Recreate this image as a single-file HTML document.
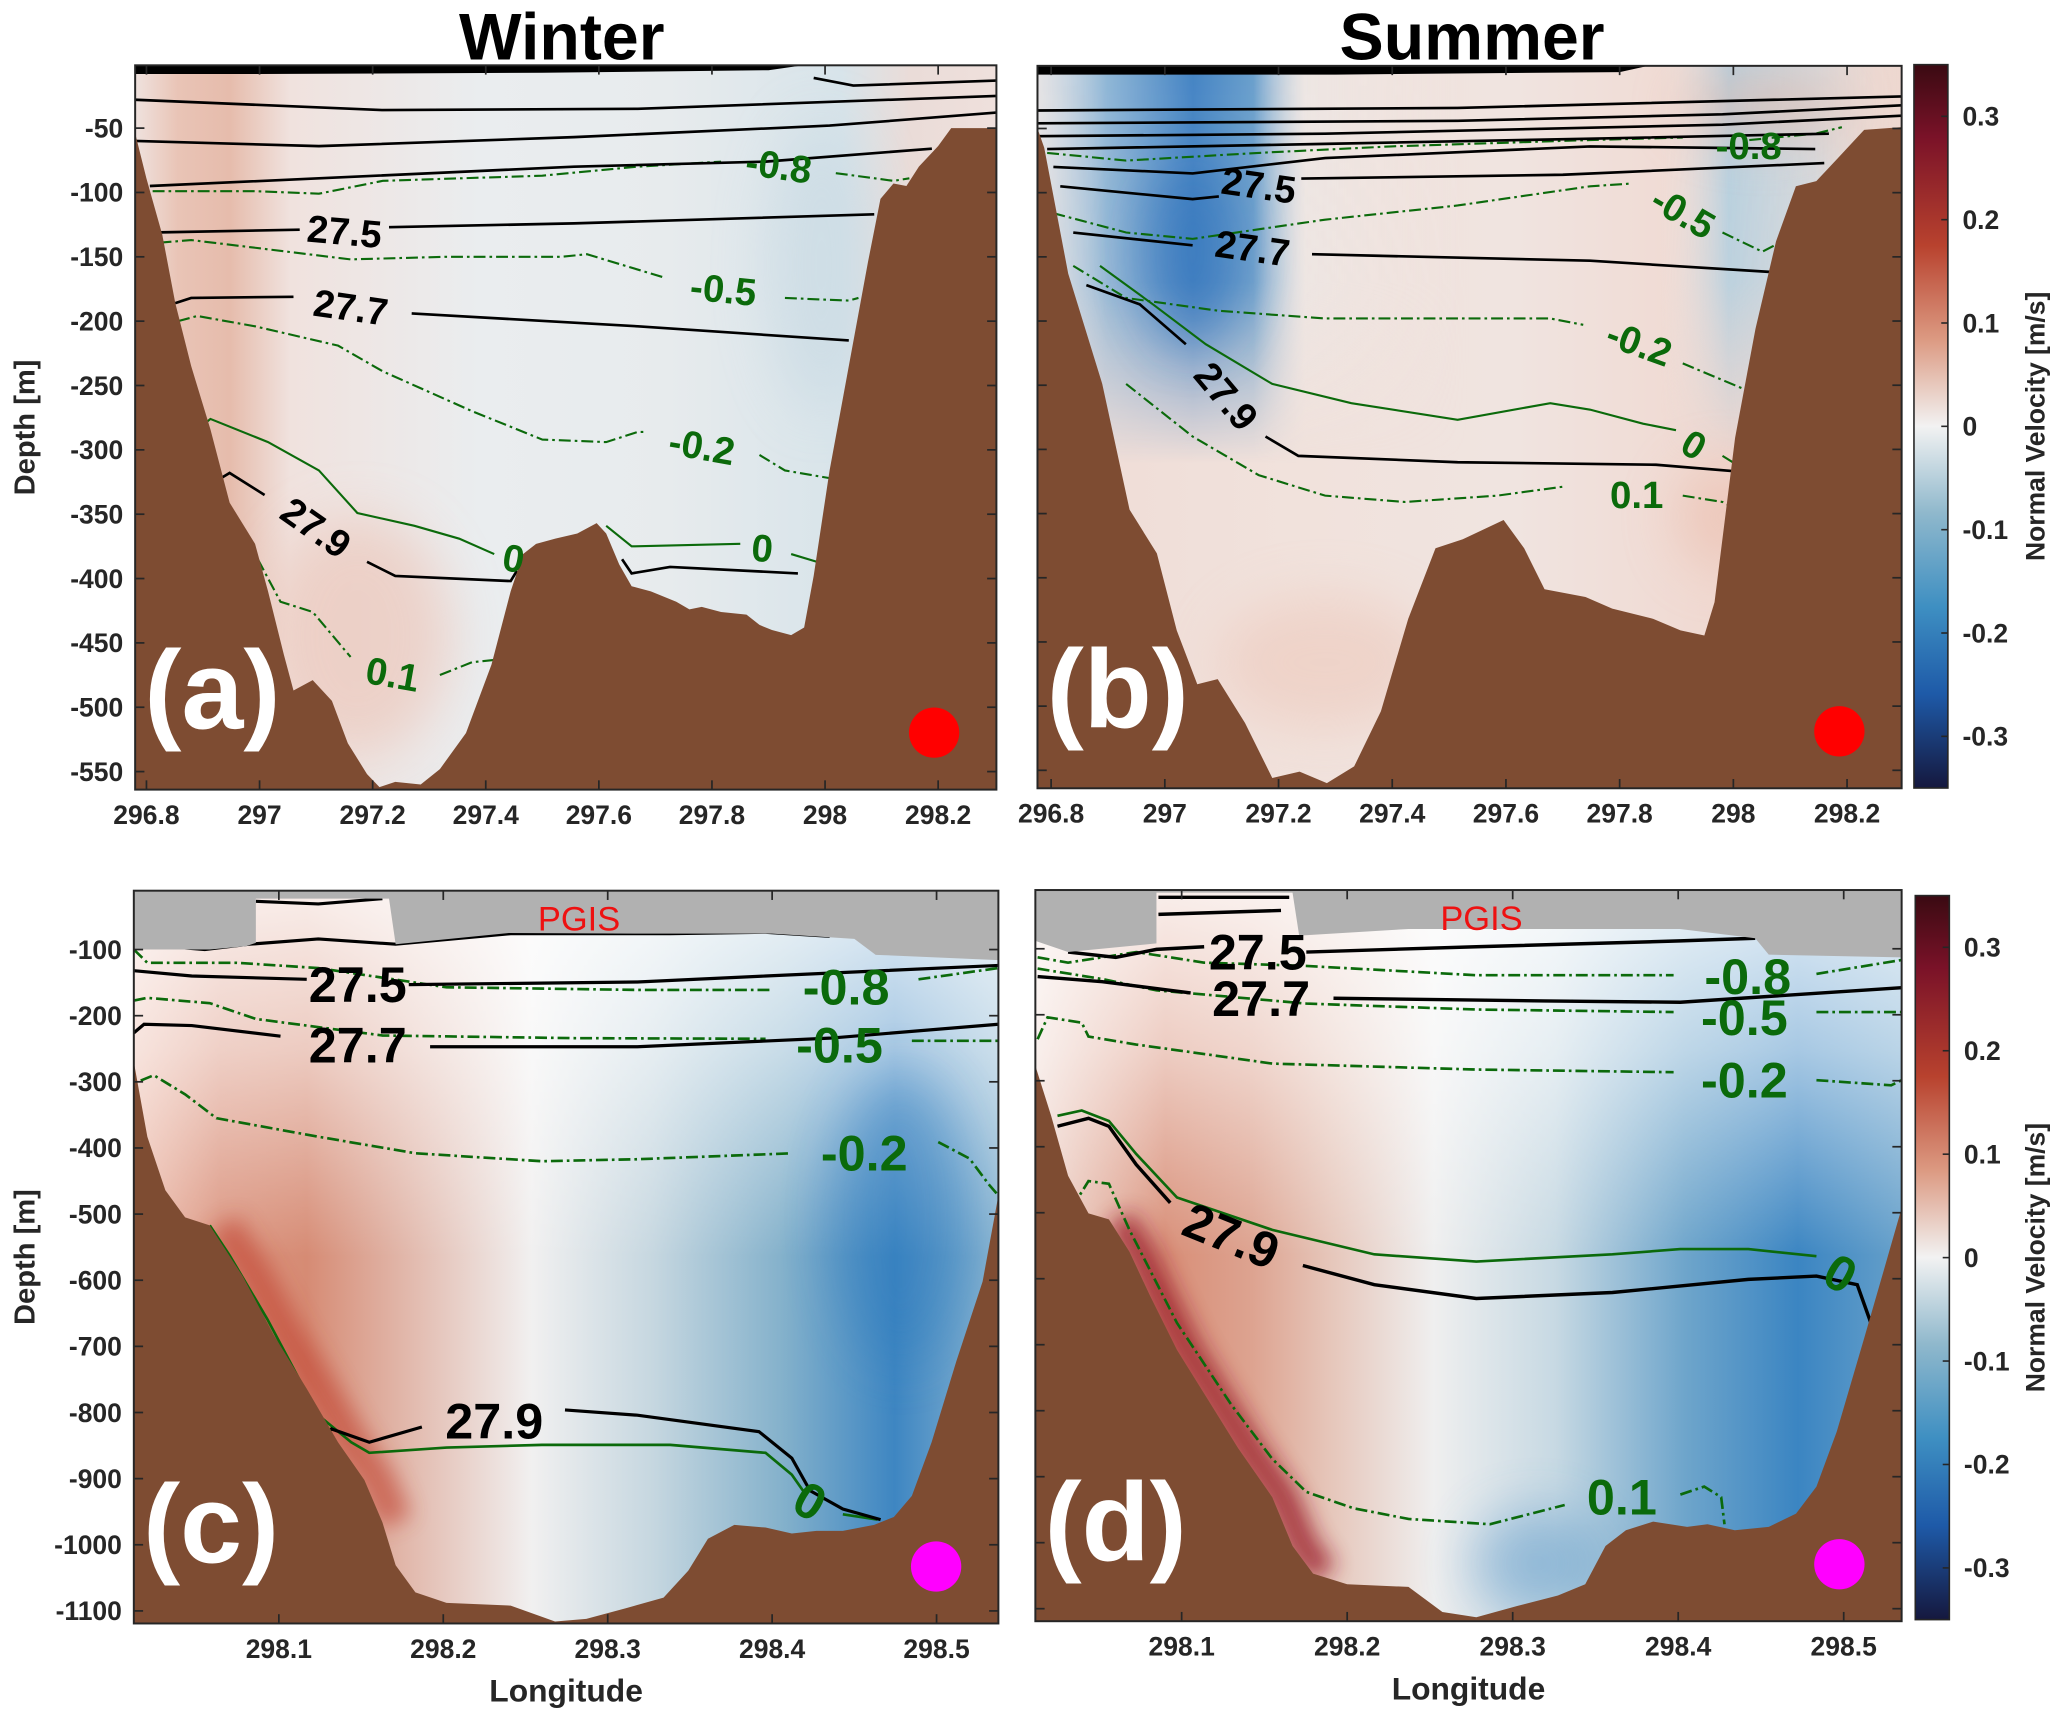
<!DOCTYPE html>
<html><head><meta charset="utf-8"><title>Winter / Summer velocity sections</title>
<style>
html,body{margin:0;padding:0;background:#fff;}
svg{display:block;font-family:"Liberation Sans",Arial,sans-serif;}
</style></head>
<body>
<svg id="fig" xmlns="http://www.w3.org/2000/svg" width="2067" height="1717" viewBox="0 0 1560 1296" preserveAspectRatio="none">
<defs>
 <linearGradient id="cbGrad" x1="0" y1="0" x2="0" y2="1">
  <stop offset="0" stop-color="#3a0a12"/><stop offset="0.1" stop-color="#7a1228"/>
  <stop offset="0.25" stop-color="#b8422e"/><stop offset="0.38" stop-color="#dc9a82"/>
  <stop offset="0.5" stop-color="#f2f2f2"/><stop offset="0.62" stop-color="#8fb8cc"/>
  <stop offset="0.75" stop-color="#3e8fc2"/><stop offset="0.87" stop-color="#1e5aa8"/>
  <stop offset="1" stop-color="#15183e"/>
 </linearGradient>
 <linearGradient id="gA" x1="0" y1="0" x2="1" y2="0">
  <stop offset="0" stop-color="#efe2de"/><stop offset="0.05" stop-color="#e9c4b6"/>
  <stop offset="0.11" stop-color="#e6bcac"/><stop offset="0.18" stop-color="#f0e2de"/>
  <stop offset="0.4" stop-color="#eaedef"/><stop offset="0.62" stop-color="#e7ebed"/>
  <stop offset="0.82" stop-color="#d8e4ea"/><stop offset="0.9" stop-color="#eadcd8"/>
  <stop offset="1" stop-color="#efe0dc"/>
 </linearGradient>
 <linearGradient id="gB" x1="0" y1="0" x2="1" y2="0">
  <stop offset="0" stop-color="#efdcd6"/><stop offset="0.3" stop-color="#f1e2dc"/>
  <stop offset="0.55" stop-color="#f0e4e0"/><stop offset="0.8" stop-color="#f0d8d0"/>
  <stop offset="1" stop-color="#eed8d0"/>
 </linearGradient>
 <linearGradient id="gBblue" x1="0" y1="0" x2="1" y2="0">
  <stop offset="0" stop-color="#dfe8ee" stop-opacity="0.6"/><stop offset="0.08" stop-color="#8fb6d6"/>
  <stop offset="0.18" stop-color="#4584c4"/><stop offset="0.25" stop-color="#6a9fcc"/>
  <stop offset="0.31" stop-color="#e8ecee" stop-opacity="0.4"/><stop offset="0.5" stop-color="#f0e6e2" stop-opacity="0"/>
  <stop offset="0.72" stop-color="#f0e6e2" stop-opacity="0"/><stop offset="0.8" stop-color="#b6d0df"/>
  <stop offset="0.9" stop-color="#c4d8e3" stop-opacity="0.6"/><stop offset="1" stop-color="#ecdcd6" stop-opacity="0"/>
 </linearGradient>
 <linearGradient id="fadeDown" x1="0" y1="0" x2="0" y2="1">
  <stop offset="0" stop-color="#fff" stop-opacity="1"/><stop offset="0.3" stop-color="#fff" stop-opacity="0.9"/>
  <stop offset="0.55" stop-color="#fff" stop-opacity="0"/><stop offset="1" stop-color="#fff" stop-opacity="0"/>
 </linearGradient>
 <mask id="mB"><rect x="783" y="49" width="653" height="547" fill="url(#fadeDown)"/></mask>
 <linearGradient id="gC" x1="0" y1="0" x2="1" y2="0">
  <stop offset="0" stop-color="#eec2b4"/><stop offset="0.1" stop-color="#db9580"/>
  <stop offset="0.2" stop-color="#d68b74"/><stop offset="0.3" stop-color="#e0b2a4"/>
  <stop offset="0.46" stop-color="#f1f0f0"/><stop offset="0.6" stop-color="#c6d7e0"/>
  <stop offset="0.75" stop-color="#84b1cb"/><stop offset="0.88" stop-color="#3e86c2"/>
  <stop offset="1" stop-color="#8bb6d2"/>
 </linearGradient>
 <linearGradient id="gD" x1="0" y1="0" x2="1" y2="0">
  <stop offset="0" stop-color="#f1dcd5"/><stop offset="0.15" stop-color="#d88e77"/>
  <stop offset="0.25" stop-color="#dda390"/><stop offset="0.34" stop-color="#e6c6ba"/>
  <stop offset="0.46" stop-color="#efefef"/><stop offset="0.6" stop-color="#c7d9e3"/>
  <stop offset="0.75" stop-color="#6ea5cb"/><stop offset="0.88" stop-color="#3b85c2"/>
  <stop offset="1" stop-color="#66a0ca"/>
 </linearGradient>
 <linearGradient id="topWhite" x1="0" y1="0" x2="0" y2="1">
  <stop offset="0" stop-color="#fff" stop-opacity="0.85"/><stop offset="0.22" stop-color="#fff" stop-opacity="0.55"/>
  <stop offset="0.5" stop-color="#fff" stop-opacity="0"/><stop offset="1" stop-color="#fff" stop-opacity="0"/>
 </linearGradient>
 <filter id="blur8" x="-100%" y="-100%" width="300%" height="300%"><feGaussianBlur stdDeviation="8"/></filter>
 <filter id="blur20" x="-100%" y="-100%" width="300%" height="300%"><feGaussianBlur stdDeviation="20"/></filter>
</defs>
<text x="424" y="45" text-anchor="middle" font-size="50" font-weight="bold">Winter</text>
<text x="1111" y="45" text-anchor="middle" font-size="50" font-weight="bold">Summer</text>
</svg>
<script>
// ===== data =====
const xTicksTop = [296.8, 297, 297.2, 297.4, 297.6, 297.8, 298, 298.2];
const xTickLabelsTop = ['296.8','297','297.2','297.4','297.6','297.8','298','298.2'];
const yTicksTop = [-50,-100,-150,-200,-250,-300,-350,-400,-450,-500,-550];
const xTicksBot = [298.1, 298.2, 298.3, 298.4, 298.5];
const xTickLabelsBot = ['298.1','298.2','298.3','298.4','298.5'];
const yTicksBot = [-100,-200,-300,-400,-500,-600,-700,-800,-900,-1000,-1100];
const cbTicks = [0.3,0.2,0.1,0,-0.1,-0.2,-0.3];
const cbRange = [-0.35, 0.35];

const bathyA = [[296.78,-54],[296.8,-89],[296.828,-133],[296.851,-186],[296.879,-235],[296.913,-284],[296.947,-341],[296.992,-373],[297.015,-410],[297.043,-459],[297.06,-487],[297.094,-479],[297.128,-495],[297.156,-528],[297.19,-552],[297.212,-562],[297.24,-558],[297.285,-560],[297.319,-548],[297.365,-520],[297.41,-467],[297.444,-410],[297.466,-381],[297.489,-373],[297.523,-369],[297.562,-365],[297.596,-357],[297.613,-365],[297.636,-389],[297.658,-406],[297.692,-410],[297.737,-418],[297.76,-424],[297.782,-422],[297.816,-426],[297.861,-428],[297.884,-436],[297.906,-440],[297.94,-444],[297.963,-438],[297.98,-398],[298.008,-316],[298.042,-235],[298.076,-154],[298.098,-105],[298.121,-93],[298.144,-95],[298.166,-80],[298.2,-64],[298.223,-50],[298.303,-50]];
const bathyB = [[296.776,-50],[296.788,-65],[296.83,-163],[296.89,-249],[296.938,-347],[296.986,-381],[297.021,-441],[297.057,-483],[297.093,-479],[297.141,-513],[297.189,-556],[297.237,-551],[297.285,-560],[297.333,-547],[297.38,-504],[297.428,-432],[297.476,-377],[297.524,-370],[297.596,-355],[297.632,-377],[297.668,-409],[297.74,-415],[297.787,-424],[297.859,-432],[297.907,-441],[297.949,-445],[297.967,-419],[298.003,-291],[298.039,-206],[298.075,-138],[298.11,-95],[298.146,-91],[298.182,-74],[298.23,-51],[298.296,-49]];
const bathyC = [[298.0118,-270],[298.02,-383],[298.031,-464],[298.043,-505],[298.058,-517],[298.078,-594],[298.097,-683],[298.117,-764],[298.136,-845],[298.152,-902],[298.163,-966],[298.171,-1031],[298.183,-1072],[298.202,-1088],[298.241,-1092],[298.268,-1116],[298.287,-1112],[298.311,-1096],[298.334,-1080],[298.349,-1039],[298.361,-991],[298.377,-970],[298.396,-974],[298.412,-983],[298.427,-979],[298.443,-979],[298.462,-970],[298.474,-958],[298.485,-926],[298.497,-845],[298.512,-723],[298.528,-602],[298.5376,-472]];
const bathyD = [[298.0117,-278],[298.0211,-353],[298.0314,-444],[298.0437,-501],[298.056,-510],[298.0684,-559],[298.0807,-625],[298.0972,-708],[298.1136,-774],[298.1342,-857],[298.1547,-931],[298.167,-1005],[298.1794,-1047],[298.2,-1063],[298.237,-1067],[298.2575,-1105],[298.278,-1113],[298.3027,-1096],[298.3273,-1080],[298.3438,-1063],[298.3561,-1005],[298.3684,-981],[298.3849,-968],[298.4054,-976],[298.4177,-972],[298.4342,-981],[298.4547,-976],[298.4712,-956],[298.4835,-915],[298.4958,-832],[298.5123,-691],[298.5246,-584],[298.535,-493]];
const iceC = [[298.0118,-11],[298.0118,-100],[298.058,-100],[298.08,-95],[298.086,-90],[298.086,-23],[298.167,-23],[298.171,-92],[298.24,-75],[298.32,-76],[298.4,-76],[298.45,-84],[298.463,-108],[298.5376,-116],[298.5376,-11]];
const iceD = [[298.0116,-11],[298.0116,-88],[298.0314,-105],[298.0848,-92],[298.0848,-15],[298.167,-15],[298.171,-80],[298.237,-70],[298.401,-70],[298.4465,-84],[298.4547,-109],[298.535,-113],[298.535,-11]];
const surfA = [[296.78,-1.2],[297.96,-1.2],[297.9,-5],[297.5,-7],[297.0,-8],[296.78,-8]];
const surfB = [[296.776,-1.2],[297.85,-1.2],[297.8,-6],[297.3,-8],[296.776,-8]];

const rhoA = [
 [[297.98,-11],[298.05,-17],[298.303,-13]],
 [[296.78,-28],[297.218,-36],[297.669,-35],[298.303,-25]],
 [[296.78,-60],[297.105,-64],[297.556,-57],[298.008,-48],[298.303,-38]],
 [[296.806,-95],[297.105,-89],[297.556,-80],[297.895,-76],[298.189,-66]],
 [[296.823,-131],[297.071,-129]],[[297.229,-127],[297.556,-124],[298.087,-117]],
 [[296.851,-186],[296.879,-182],[297.06,-181]],[[297.269,-194],[297.669,-204],[298.042,-215]],
 [[296.924,-324],[296.947,-318],[297.009,-335]],[[297.19,-387],[297.24,-398],[297.444,-402],[297.455,-394]],
 [[297.641,-385],[297.658,-396],[297.726,-391],[297.952,-396]]
];
const rhoB = [
 [[296.776,-36],[297.515,-34],[298.296,-25]],
 [[296.776,-46],[297.515,-44],[297.981,-39],[298.296,-32]],
 [[296.776,-56],[297.282,-54],[297.981,-47],[298.296,-40]],
 [[296.793,-66],[297.282,-62],[297.748,-58],[298.168,-54]],
 [[296.804,-80],[297.049,-85],[297.282,-73],[297.748,-64],[298.144,-66]],
 [[296.816,-95],[297.049,-105],[297.095,-103]],[[297.24,-89],[297.7,-86],[298.16,-77]],
 [[296.839,-131],[297.049,-141]],[[297.259,-148],[297.748,-153],[298.074,-162]],
 [[296.862,-172],[296.956,-187],[297.037,-218]],[[297.177,-290],[297.235,-305],[297.515,-310],[297.864,-312],[298.028,-318]]
];
const rhoC = [
 [[298.086,-27],[298.124,-31],[298.163,-23]],
 [[298.035,-96],[298.055,-100],[298.082,-92],[298.124,-84],[298.171,-92],[298.241,-76],[298.28,-76],[298.338,-76],[298.396,-74],[298.435,-80]],
 [[298.0118,-132],[298.047,-140],[298.117,-145]],[[298.179,-153],[298.318,-149],[298.396,-140],[298.5376,-124]],
 [[298.0118,-226],[298.018,-213],[298.047,-215],[298.101,-231]],[[298.192,-247],[298.318,-247],[298.435,-234],[298.5376,-213]],
 [[298.068,-578],[298.078,-610],[298.101,-719]],
 [[298.128,-833],[298.132,-825],[298.155,-845],[298.187,-822]],[[298.274,-796],[298.318,-804],[298.392,-829],[298.412,-869],[298.423,-918],[298.443,-946],[298.466,-962]]
];
const rhoD = [
 [[298.086,-22],[298.165,-22]],[[298.086,-48],[298.16,-42]],
 [[298.0314,-105],[298.0602,-113],[298.0848,-101],[298.1136,-97]],[[298.1753,-105],[298.278,-97],[298.4013,-88],[298.4465,-84]],
 [[298.013,-142],[298.052,-150],[298.1054,-167]],[[298.1917,-175],[298.319,-179],[298.4013,-181],[298.535,-159]],
 [[298.025,-369],[298.0437,-357],[298.056,-369],[298.0725,-427],[298.0931,-485]],
 [[298.1732,-580],[298.2164,-609],[298.278,-630],[298.3602,-621],[298.4424,-601],[298.4835,-596],[298.5082,-609],[298.5164,-667]]
];
const zeroA = [
 [[296.902,-280],[296.913,-276],[297.015,-294],[297.105,-316],[297.173,-349],[297.274,-359],[297.353,-369],[297.415,-381]],
 [[297.5,-375],[297.534,-369]],[[297.613,-359],[297.658,-375],[297.85,-373]],[[297.94,-381],[297.986,-387]]
];
const dashA = [
 [[296.811,-99],[296.992,-99],[297.105,-101],[297.218,-91],[297.5,-87],[297.669,-80],[297.816,-76]],[[298.019,-85],[298.121,-91],[298.149,-89]],
 [[296.823,-139],[296.879,-137],[296.992,-143],[297.161,-152],[297.331,-150],[297.534,-150],[297.579,-148],[297.715,-166]],[[297.929,-182],[298.042,-184],[298.059,-182]],
 [[296.856,-200],[296.89,-196],[296.992,-204],[297.139,-219],[297.218,-239],[297.376,-270],[297.5,-292],[297.613,-294],[297.669,-286],[297.681,-286]],[[297.884,-304],[297.929,-316],[298.008,-322]],
 [[296.975,-371],[296.992,-381],[297.037,-418],[297.094,-426],[297.161,-461]],[[297.319,-475],[297.376,-465],[297.421,-463]]
];
const zeroB = [
 [[296.886,-157],[296.979,-187],[297.072,-218],[297.189,-249],[297.328,-264],[297.515,-277],[297.678,-264],[297.748,-269],[297.841,-280],[297.899,-285]],
 [[297.981,-305],[298.028,-318]]
];
const dashB = [
 [[296.793,-69],[296.932,-75],[297.165,-69],[297.398,-64],[297.748,-59],[297.911,-57]],[[298.028,-59],[298.144,-54],[298.191,-49]],
 [[296.804,-116],[296.932,-131],[297.049,-136],[297.282,-121],[297.515,-110],[297.748,-95],[297.818,-93]],[[297.981,-131],[298.051,-146],[298.086,-138]],
 [[296.839,-157],[296.932,-182],[297.095,-192],[297.282,-198],[297.515,-198],[297.678,-198],[297.736,-203]],[[297.911,-233],[298.051,-259]],
 [[296.932,-249],[297.049,-290],[297.165,-320],[297.282,-336],[297.422,-341],[297.585,-336],[297.701,-329]],[[297.911,-336],[297.981,-341],[298.016,-349]]
];
const zeroC = [
 [[298.058,-517],[298.07,-562],[298.093,-659],[298.124,-804],[298.144,-845],[298.155,-861],[298.202,-853],[298.26,-849],[298.338,-849],[298.396,-861],[298.412,-894],[298.421,-926]],
 [[298.443,-954],[298.464,-962]]
];
const dashC = [
 [[298.0118,-100],[298.02,-120],[298.074,-120],[298.124,-128],[298.202,-157],[298.318,-161],[298.4,-161]],[[298.489,-145],[298.5376,-128]],
 [[298.0118,-177],[298.02,-173],[298.058,-181],[298.086,-205],[298.163,-230],[298.28,-234],[298.396,-235]],[[298.485,-238],[298.5376,-238]],
 [[298.016,-298],[298.024,-290],[298.043,-319],[298.062,-355],[298.124,-383],[298.183,-408],[298.26,-420],[298.318,-417],[298.412,-408]],[[298.501,-391],[298.52,-416],[298.532,-456],[298.5376,-472]]
];
const zeroD = [
 [[298.025,-353],[298.0396,-345],[298.056,-361],[298.0725,-411],[298.0972,-477],[298.1547,-526],[298.2164,-563],[298.278,-574],[298.3602,-563],[298.4013,-555],[298.4424,-555],[298.4835,-566]]
];
const dashD = [
 [[298.013,-113],[298.0314,-121],[298.0725,-105],[298.1136,-121],[298.1753,-126],[298.278,-140],[298.3972,-140]],[[298.4835,-138],[298.535,-117]],
 [[298.013,-130],[298.052,-146],[298.0848,-163],[298.1753,-183],[298.278,-192],[298.3972,-196]],[[298.4835,-196],[298.535,-196]],
 [[298.013,-237],[298.019,-204],[298.0396,-212],[298.0437,-233],[298.0725,-245],[298.1547,-274],[298.278,-283],[298.3972,-287]],[[298.4835,-299],[298.5287,-307],[298.535,-299]],
 [[298.0335,-493],[298.0437,-452],[298.056,-456],[298.0684,-526],[298.0972,-667],[298.13,-791],[298.1547,-873],[298.1753,-923],[298.204,-948],[298.237,-964],[298.2862,-972],[298.3314,-943]],
 [[298.4013,-927],[298.4157,-915],[298.426,-931],[298.428,-972]]
];
const labelsA = [['-0.8',297.918,-80,8,'g'],['27.5',297.15,-131,5,'k'],['-0.5',297.82,-176,6,'g'],['27.7',297.161,-190,8,'k'],['-0.2',297.782,-298,10,'g'],['27.9',297.099,-361,35,'k'],['0',297.449,-385,10,'g'],['0',297.889,-377,5,'g'],['0.1',297.235,-475,10,'g']];
const labelsB = [['-0.8',298.027,-64,0,'g'],['27.5',297.165,-95,8,'k'],['27.7',297.154,-144,8,'k'],['-0.5',297.911,-116,30,'g'],['-0.2',297.834,-218,20,'g'],['27.9',297.107,-259,50,'k'],['0',297.93,-297,30,'g'],['0.1',297.83,-336,0,'g']];
const labelsC = [['27.5',298.148,-153,0,'k'],['-0.8',298.445,-157,0,'g'],['27.7',298.148,-244,0,'k'],['-0.5',298.441,-244,0,'g'],['-0.2',298.456,-408,0,'g'],['27.9',298.231,-813,0,'k'],['0',298.423,-934,30,'g']];
const labelsD = [['27.5',298.146,-105,0,'k'],['27.7',298.148,-175,0,'k'],['-0.8',298.442,-142,0,'g'],['-0.5',298.44,-204,0,'g'],['-0.2',298.44,-299,0,'g'],['27.9',298.13,-535,22,'k'],['0',298.498,-592,30,'g'],['0.1',298.366,-931,0,'g']];

// ===== drawing =====
const NS = 'http://www.w3.org/2000/svg';
const svg = document.getElementById('fig');
function mk(tag, attrs, parent){
  const e = document.createElementNS(NS, tag);
  for (const k in attrs) e.setAttribute(k, attrs[k]);
  (parent || svg).appendChild(e);
  return e;
}
const GREEN = '#0b6a0b', BROWN = '#7e4c32';

function panel(P){
  const sx = lon => P.x0 + (lon - P.lon0) / (P.lon1 - P.lon0) * (P.x1 - P.x0);
  const sy = d => P.y0 + (d - P.d0) / (P.d1 - P.d0) * (P.y1 - P.y0);
  const pts = arr => arr.map(p => sx(p[0]).toFixed(1) + ',' + sy(p[1]).toFixed(1)).join(' ');
  const g = mk('g', {});
  
  
  const cp = mk('clipPath', {id: 'clip' + P.id}, svg.querySelector('defs'));
  mk('rect', {x: P.x0, y: P.y0, width: P.x1 - P.x0, height: P.y1 - P.y0}, cp);
  const inner = mk('g', {'clip-path': 'url(#clip' + P.id + ')'}, g);
  const W = P.x1 - P.x0, H = P.y1 - P.y0;
  const bg = mk('rect', {x: P.x0, y: P.y0, width: W, height: H, fill: 'url(#' + P.grad + ')'}, inner);
  
  
  if (P.extra) P.extra(inner, sx, sy);
  if (P.surf) {
    const s = mk('polygon', {points: pts(P.surf), fill: '#000'}, inner);
    
    
  }
  P.dash.forEach(c => {
    const l = mk('polyline', {points: pts(c), fill: 'none', stroke: GREEN, 'stroke-width': P.gw, 'stroke-dasharray': '9 3 2 3'}, inner);
    
    
  });
  P.zero.forEach(c => {
    const l = mk('polyline', {points: pts(c), fill: 'none', stroke: GREEN, 'stroke-width': P.gw}, inner);
    
    
  });
  P.rho.forEach(c => {
    const l = mk('polyline', {points: pts(c), fill: 'none', stroke: '#000', 'stroke-width': P.kw}, inner);
    
    
  });
  const b = P.bathy;
  const bpts = [[P.lon0, b[0][1]]].concat(b, [[P.lon1, b[b.length-1][1]], [P.lon1, P.d1 - 20], [P.lon0, P.d1 - 20]]);
  const bp = mk('polygon', {points: pts(bpts), fill: BROWN}, inner);
  
  
  if (P.ice) {
    const ip = mk('polygon', {points: pts(P.ice), fill: '#b1b1b1'}, inner);
    
    
    const t = mk('text', {x: P.x0 + W * 0.515, y: P.y0 + 30, 'text-anchor': 'middle', 'font-size': 26, fill: '#ee1111'}, inner);
    
    
    t.textContent = 'PGIS';
  }
  P.labels.forEach(L => {
    const x = sx(L[1]), y = sy(L[2]);
    const t = mk('text', {x: x, y: y, 'text-anchor': 'middle', 'dominant-baseline': 'central', 'font-size': P.lfs, 'font-weight': 'bold', fill: L[4] === 'g' ? GREEN : '#000', transform: 'rotate(' + L[3] + ' ' + x + ' ' + y + ')'}, inner);
    
    
    t.textContent = L[0];
  });
  const pl = mk('text', {x: P.x0 + 7, y: P.y1 - 46, 'font-size': 84, 'font-weight': 'bold', fill: '#fff'}, inner);
  
  
  pl.textContent = '(' + P.id + ')';
  const dot = mk('circle', {cx: P.x1 - 47, cy: P.y1 - 43, r: 19, fill: P.dot}, inner);
  
  
  const fr = mk('rect', {x: P.x0, y: P.y0, width: W, height: H, fill: 'none', stroke: '#262626', 'stroke-width': 1.5}, g);
  
  
  P.xt.forEach((v, i) => {
    const x = sx(v);
    mk('line', {x1: x, x2: x, y1: P.y1, y2: P.y1 - 7, stroke: '#262626', 'stroke-width': 1.3}, g);
    mk('line', {x1: x, x2: x, y1: P.y0, y2: P.y0 + 7, stroke: '#262626', 'stroke-width': 1.3}, g);
    const t = mk('text', {x: x, y: P.y1 + 26, 'text-anchor': 'middle', 'font-size': 20, 'font-weight': 'bold', fill: '#262626'}, g);
    
    
    t.textContent = P.xl[i];
  });
  P.yt.forEach(v => {
    const y = sy(v);
    mk('line', {x1: P.x0, x2: P.x0 + 7, y1: y, y2: y, stroke: '#262626', 'stroke-width': 1.3}, g);
    mk('line', {x1: P.x1, x2: P.x1 - 7, y1: y, y2: y, stroke: '#262626', 'stroke-width': 1.3}, g);
    if (P.ylab) {
      const t = mk('text', {x: P.x0 - 9, y: y + 7, 'text-anchor': 'end', 'font-size': 20, 'font-weight': 'bold', fill: '#262626'}, g);
      
      
      t.textContent = String(v);
    }
  });
  if (P.ylab) {
    const cy = (P.y0 + P.y1) / 2;
    const t = mk('text', {x: 26, y: cy, 'text-anchor': 'middle', 'font-size': 22, 'font-weight': 'bold', fill: '#262626', transform: 'rotate(-90 26 ' + cy + ')'}, g);
    
    
    t.textContent = 'Depth [m]';
  }
  if (P.xtitle) {
    const t = mk('text', {x: (P.x0 + P.x1) / 2, y: P.y1 + 59, 'text-anchor': 'middle', 'font-size': 24, 'font-weight': 'bold', fill: '#262626'}, g);
    
    
    t.textContent = 'Longitude';
  }
}

function blob(parent, cx, cy, rx, ry, color, op, f){
  const e = mk('ellipse', {cx: cx, cy: cy, rx: rx, ry: ry, fill: color, opacity: op, filter: 'url(#' + (f || 'blur20') + ')'}, parent);
  
  
}

panel({id:'a', x0:102, x1:752, y0:49.3, y1:596, lon0:296.78, lon1:298.303, d0:-1.2, d1:-564,
  grad:'gA', bathy:bathyA, surf:surfA, rho:rhoA, zero:zeroA, dash:dashA, labels:labelsA,
  gw:1.6, kw:2, lfs:29, dot:'#ff0000', xt:xTicksTop, xl:xTickLabelsTop, yt:yTicksTop, ylab:true,
  extra:(g)=>{ blob(g,270,480,70,90,'#ecc8bc',0.7); blob(g,620,200,40,110,'#c7d9e3',0.6); }});
panel({id:'b', x0:783, x1:1435.2, y0:49.7, y1:595, lon0:296.776, lon1:298.296, d0:-1.2, d1:-564,
  grad:'gB', bathy:bathyB, surf:surfB, rho:rhoB, zero:zeroB, dash:dashB, labels:labelsB,
  gw:1.6, kw:2, lfs:29, dot:'#ff0000', xt:xTicksTop, xl:xTickLabelsTop, yt:yTicksTop, ylab:false,
  extra:(g)=>{
    const r = mk('rect', {x:783, y:49.7, width:652.2, height:545.3, fill:'url(#gBblue)', mask:'url(#mB)'}, g);
    
    
    blob(g,900,190,35,70,'#2f72bb',0.6);
    blob(g,1300,390,35,40,'#eab8a6',0.5); blob(g,1330,80,60,25,'#e6b4a2',0.5); blob(g,1000,500,80,50,'#ecc4b6',0.5);
  }});
panel({id:'c', x0:101, x1:753.5, y0:672.3, y1:1225.4, lon0:298.0118, lon1:298.5376, d0:-11, d1:-1119,
  grad:'gC', bathy:bathyC, ice:iceC, rho:rhoC, zero:zeroC, dash:dashC, labels:labelsC,
  gw:2, kw:2.4, lfs:38, dot:'#ff00ff', xt:xTicksBot, xl:xTickLabelsBot, yt:yTicksBot, ylab:true, xtitle:true,
  extra:(g,sx,sy)=>{
    const r = mk('rect', {x:101, y:672.3, width:652.5, height:553, fill:'url(#topWhite)'}, g);
    
    
    const strip = bathyC.slice(4, 11).map(p => (sx(p[0]) + 10).toFixed(1) + ',' + sy(p[1]).toFixed(1)).join(' ');
    const s = mk('polyline', {points: strip, fill:'none', stroke:'#c0402e', 'stroke-width':26, opacity:0.6, filter:'url(#blur8)'}, g);
    
    
    blob(g,680,920,50,110,'#2f7bbd',0.4);
  }});
panel({id:'d', x0:781.4, x1:1435.2, y0:671.8, y1:1223.7, lon0:298.0116, lon1:298.535, d0:-11, d1:-1119,
  grad:'gD', bathy:bathyD, ice:iceD, rho:rhoD, zero:zeroD, dash:dashD, labels:labelsD,
  gw:2, kw:2.6, lfs:38, dot:'#ff00ff', xt:xTicksBot, xl:xTickLabelsBot, yt:yTicksBot, ylab:false, xtitle:true,
  extra:(g,sx,sy)=>{
    const r = mk('rect', {x:781.4, y:671.8, width:653.8, height:552, fill:'url(#topWhite)'}, g);
    
    
    const strip = bathyD.slice(4, 13).map(p => (sx(p[0]) + 8).toFixed(1) + ',' + sy(p[1]).toFixed(1)).join(' ');
    const s = mk('polyline', {points: strip, fill:'none', stroke:'#9a1c2a', 'stroke-width':22, opacity:0.8, filter:'url(#blur8)'}, g);
    
    
    blob(g,1160,1180,50,40,'#3b85c2',0.4);
  }});

function colorbar(x0, x1, y0, y1, id){
  const g = mk('g', {});
  
  
  mk('rect', {x: x0, y: y0, width: x1 - x0, height: y1 - y0, fill: 'url(#cbGrad)', stroke: '#262626', 'stroke-width': 1.2}, g);
  const cy = v => y1 - (v - cbRange[0]) / (cbRange[1] - cbRange[0]) * (y1 - y0);
  cbTicks.forEach(v => {
    const y = cy(v);
    mk('line', {x1: x1, x2: x1 - 5, y1: y, y2: y, stroke: '#262626', 'stroke-width': 1.2}, g);
    const t = mk('text', {x: x1 + 11, y: y + 7, 'font-size': 20, 'font-weight': 'bold', fill: '#262626'}, g);
    
    
    t.textContent = String(v);
  });
  const my = (y0 + y1) / 2;
  const t = mk('text', {x: 1543, y: my, 'text-anchor': 'middle', 'font-size': 20, 'font-weight': 'bold', fill: '#262626', transform: 'rotate(-90 1543 ' + my + ')'}, g);
  
  
  t.textContent = 'Normal Velocity [m/s]';
}
colorbar(1444.5, 1470.1, 48.8, 594.8, 'top');
colorbar(1445.5, 1471.2, 676, 1222.5, 'bottom');
</script>
</body></html>
